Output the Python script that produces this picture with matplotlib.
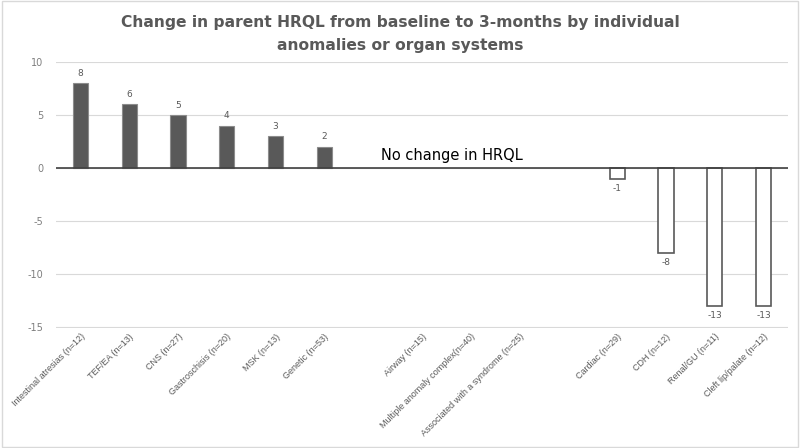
import numpy as np
import matplotlib.pyplot as plt

plt.rcParams['axes.unicode_minus'] = False

categories = ['Intestinal atresias (n=12)', 'TEF/EA (n=13)', 'CNS (n=27)',
              'Gastroschisis (n=20)', 'MSK (n=13)', 'Genetic (n=53)', '',
              'Airway (n=15)', 'Multiple anomaly complex(n=40)',
              'Associated with a syndrome (n=25)', '',
              'Cardiac (n=29)', 'CDH (n=12)', 'Renal/GU (n=11)',
              'Cleft lip/palate (n=12)']
# None = no bar (spacer slots and "no change" groups)
change = [8, 6, 5, 4, 3, 2, None, None, None, None, None, -1, -8, -13, -13]

fig = plt.figure(figsize=(8, 4.48), dpi=100)
ax = fig.add_axes([0.07, 0.268, 0.915, 0.594])

x = np.arange(len(categories))
for xi, v in zip(x, change):
    if v is None:
        continue
    if v > 0:
        ax.bar(xi, v, width=0.31, color='#595959', edgecolor='#8c8c8c', linewidth=0.8, zorder=3)
        ax.text(xi, v + 0.5, str(v), ha='center', va='bottom', fontsize=6.5, color='#595959')
    else:
        ax.bar(xi, v, width=0.31, color='white', edgecolor='#595959', linewidth=1.2, zorder=3)
        ax.text(xi, v - 0.5, str(v), ha='center', va='top', fontsize=6.5, color='#595959')

ax.axhline(0, color='#404040', linewidth=1.2, zorder=4)
ax.set_xlim(-0.5, len(categories) - 0.5)
ax.set_ylim(-15.05, 10)
ax.set_yticks([-15, -10, -5, 0, 5, 10])
ax.yaxis.grid(True, color='#d9d9d9', linewidth=0.8, zorder=0)
ax.tick_params(axis='y', length=0, labelsize=7, labelcolor='#7f7f7f', pad=9)
ax.set_xticks(x)
ax.set_xticklabels(categories, rotation=45, ha='right', rotation_mode='anchor',
                   fontsize=6.5, color='#595959', family='Liberation Sans')
ax.tick_params(axis='x', length=0, pad=3)
for s in ax.spines.values():
    s.set_visible(False)

ax.text(6.15, 0.45, 'No change in HRQL', fontsize=10.5, color='black', va='bottom', ha='left')

fig.text(0.5, 0.950, 'Change in parent HRQL from baseline to 3-months by individual',
         ha='center', va='center', fontsize=11.2, fontweight='bold', color='#595959')
fig.text(0.5, 0.899, 'anomalies or organ systems',
         ha='center', va='center', fontsize=11.2, fontweight='bold', color='#595959')

fig.patches.append(plt.Rectangle((0.002, 0.002), 0.996, 0.996, transform=fig.transFigure,
                                 fill=False, edgecolor='#d9d9d9', linewidth=1))

fig.savefig('out.png', dpi=100)
